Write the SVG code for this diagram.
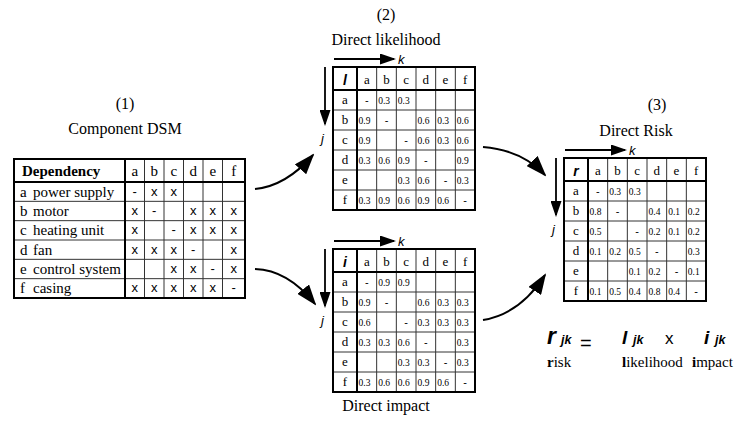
<svg xmlns="http://www.w3.org/2000/svg" xmlns:xlink="http://www.w3.org/1999/xlink" width="740" height="425" viewBox="0 0 740 425">
<style>
.t{font-family:"Liberation Serif","Times New Roman",serif;fill:#000}
.ttl{font-size:16px;text-anchor:middle}
.h{font-size:13px;text-anchor:middle}
.v{font-size:9.5px}
.dl{font-family:"Liberation Sans",Arial,sans-serif;font-size:11px;text-anchor:middle}
.dm{font-family:"Liberation Sans",Arial,sans-serif;font-size:13px;text-anchor:middle}
.bi{font-family:"Liberation Sans",Arial,sans-serif;font-weight:bold;font-style:italic}
.it{font-family:"Liberation Sans",Arial,sans-serif;font-style:italic;font-size:13px}
.ds{font-size:15px}
.thin{stroke:#333;stroke-width:1;fill:none}
.thick{stroke:#000;stroke-width:2;fill:none}
.ax{stroke:#000;stroke-width:1.8;fill:none;marker-end:url(#sh)}
.cv{stroke:#000;stroke-width:2;fill:none;marker-end:url(#bh)}
</style>
<defs>
<marker id="sh" markerWidth="16" markerHeight="11" refX="14" refY="5.5" orient="auto" markerUnits="userSpaceOnUse"><path d="M0,0 L16,5.5 L0,11 Z" fill="#000"/></marker>
<marker id="bh" markerWidth="21" markerHeight="15" refX="19" refY="7.5" orient="auto" markerUnits="userSpaceOnUse"><path d="M0,0 L21,7.5 L0,15 Z" fill="#000"/></marker>
<g id="mgrid">
<path class="thin" d="M0,43H142M0,63H142M0,83H142M0,103H142M0,123H142M43.67,0V143M63.33,0V143M83,0V143M102.67,0V143M122.33,0V143"/>
<path class="thick" d="M0,23H142M24,0V143"/>
<rect class="thick" x="0" y="0" width="142" height="143"/>
<path class="ax" d="M1,-8H61"/>
<path class="ax" d="M-8,0V57"/>
<text class="it" x="65" y="-3.5">k</text>
<text class="it" x="-12" y="76">j</text>
<g class="t h">
<text x="33.8" y="17">a</text><text x="53.5" y="17">b</text><text x="73.2" y="17">c</text><text x="92.8" y="17">d</text><text x="112.5" y="17">e</text><text x="132.2" y="17">f</text>
<text x="12" y="37">a</text><text x="12" y="57">b</text><text x="12" y="77">c</text><text x="12" y="97">d</text><text x="12" y="117">e</text><text x="12" y="137">f</text>
</g>
<g class="dl">
<text x="33.8" y="37">-</text><text x="53.5" y="57">-</text><text x="73.2" y="77">-</text><text x="92.8" y="97">-</text><text x="112.5" y="117">-</text><text x="132.2" y="137">-</text>
</g>
</g>
</defs>

<g id="titles" class="t">
<text class="ttl" x="125" y="109">(1)</text>
<text class="ttl" x="125" y="134">Component DSM</text>
<text class="ttl" x="386" y="20">(2)</text>
<text class="ttl" x="386" y="45">Direct likelihood</text>
<text class="ttl" x="657" y="110">(3)</text>
<text class="ttl" x="636" y="136">Direct Risk</text>
<text class="ttl" x="386" y="411">Direct impact</text>
</g>

<g id="dsm" transform="translate(14,159)">
<path class="thin" d="M0,42.33H231M0,61.67H231M0,81H231M0,100.33H231M0,119.67H231M130.5,0V139M150,0V139M169.5,0V139M189,0V139M208.5,0V139"/>
<path class="thick" d="M0,23H231M111,0V139"/>
<rect class="thick" x="0" y="0" width="231" height="139"/>
<g class="t ds">
<text x="8" y="17" font-weight="bold">Dependency</text>
<g text-anchor="middle"><text x="120.75" y="17">a</text><text x="140.25" y="17">b</text><text x="159.75" y="17">c</text><text x="179.25" y="17">d</text><text x="198.75" y="17">e</text><text x="219.75" y="17">f</text></g>
<text x="6" y="37.5">a</text><text x="19" y="37.5">power supply</text>
<text x="6" y="56.8">b</text><text x="19" y="56.8">motor</text>
<text x="6" y="76.2">c</text><text x="19" y="76.2">heating unit</text>
<text x="6" y="95.5">d</text><text x="19" y="95.5">fan</text>
<text x="6" y="114.8">e</text><text x="19" y="114.8">control system</text>
<text x="6" y="134.2">f</text><text x="19" y="134.2">casing</text>
</g>
<g class="dm">
<text x="120.75" y="36.5">-</text><text x="140.25" y="36.5">x</text><text x="159.75" y="36.5">x</text>
<text x="120.75" y="55.8">x</text><text x="140.25" y="55.8">-</text><text x="179.25" y="55.8">x</text><text x="198.75" y="55.8">x</text><text x="219.75" y="55.8">x</text>
<text x="120.75" y="75.2">x</text><text x="159.75" y="75.2">-</text><text x="179.25" y="75.2">x</text><text x="198.75" y="75.2">x</text><text x="219.75" y="75.2">x</text>
<text x="120.75" y="94.5">x</text><text x="140.25" y="94.5">x</text><text x="159.75" y="94.5">x</text><text x="179.25" y="94.5">-</text><text x="219.75" y="94.5">x</text>
<text x="159.75" y="113.8">x</text><text x="179.25" y="113.8">x</text><text x="198.75" y="113.8">-</text><text x="219.75" y="113.8">x</text>
<text x="120.75" y="133.2">x</text><text x="140.25" y="133.2">x</text><text x="159.75" y="133.2">x</text><text x="179.25" y="133.2">x</text><text x="198.75" y="133.2">x</text><text x="219.75" y="133.2">-</text>
</g>
</g>

<g id="likelihood" transform="translate(333,67)">
<use xlink:href="#mgrid"/>
<text class="bi" x="12" y="17.5" font-size="14" text-anchor="middle">l</text>
<g class="t v">
<text y="36.5"><tspan x="45.2">0.3</tspan><tspan x="64.8">0.3</tspan></text>
<text y="56.5"><tspan x="25.5">0.9</tspan><tspan x="84.5">0.6</tspan><tspan x="104.2">0.3</tspan><tspan x="123.8">0.6</tspan></text>
<text y="76.5"><tspan x="25.5">0.9</tspan><tspan x="84.5">0.6</tspan><tspan x="104.2">0.3</tspan><tspan x="123.8">0.6</tspan></text>
<text y="96.5"><tspan x="25.5">0.3</tspan><tspan x="45.2">0.6</tspan><tspan x="64.8">0.9</tspan><tspan x="123.8">0.9</tspan></text>
<text y="116.5"><tspan x="64.8">0.3</tspan><tspan x="84.5">0.6</tspan><tspan x="123.8">0.3</tspan></text>
<text y="136.5"><tspan x="25.5">0.3</tspan><tspan x="45.2">0.9</tspan><tspan x="64.8">0.6</tspan><tspan x="84.5">0.9</tspan><tspan x="104.2">0.6</tspan></text>
</g>
</g>

<g id="impact" transform="translate(333,249)">
<use xlink:href="#mgrid"/>
<text class="bi" x="12" y="17.5" font-size="14" text-anchor="middle">i</text>
<g class="t v">
<text y="36.5"><tspan x="45.2">0.9</tspan><tspan x="64.8">0.9</tspan></text>
<text y="56.5"><tspan x="25.5">0.9</tspan><tspan x="84.5">0.6</tspan><tspan x="104.2">0.3</tspan><tspan x="123.8">0.3</tspan></text>
<text y="76.5"><tspan x="25.5">0.6</tspan><tspan x="84.5">0.3</tspan><tspan x="104.2">0.3</tspan><tspan x="123.8">0.3</tspan></text>
<text y="96.5"><tspan x="25.5">0.3</tspan><tspan x="45.2">0.3</tspan><tspan x="64.8">0.6</tspan><tspan x="123.8">0.3</tspan></text>
<text y="116.5"><tspan x="64.8">0.3</tspan><tspan x="84.5">0.3</tspan><tspan x="123.8">0.3</tspan></text>
<text y="136.5"><tspan x="25.5">0.3</tspan><tspan x="45.2">0.6</tspan><tspan x="64.8">0.6</tspan><tspan x="84.5">0.9</tspan><tspan x="104.2">0.6</tspan></text>
</g>
</g>

<g id="risk" transform="translate(564,158)">
<use xlink:href="#mgrid"/>
<text class="bi" x="12" y="17.5" font-size="14" text-anchor="middle">r</text>
<g class="t v">
<text y="36.5"><tspan x="45.2">0.3</tspan><tspan x="64.8">0.3</tspan></text>
<text y="56.5"><tspan x="25.5">0.8</tspan><tspan x="84.5">0.4</tspan><tspan x="104.2">0.1</tspan><tspan x="123.8">0.2</tspan></text>
<text y="76.5"><tspan x="25.5">0.5</tspan><tspan x="84.5">0.2</tspan><tspan x="104.2">0.1</tspan><tspan x="123.8">0.2</tspan></text>
<text y="96.5"><tspan x="25.5">0.1</tspan><tspan x="45.2">0.2</tspan><tspan x="64.8">0.5</tspan><tspan x="123.8">0.3</tspan></text>
<text y="116.5"><tspan x="64.8">0.1</tspan><tspan x="84.5">0.2</tspan><tspan x="123.8">0.1</tspan></text>
<text y="136.5"><tspan x="25.5">0.1</tspan><tspan x="45.2">0.5</tspan><tspan x="64.8">0.4</tspan><tspan x="84.5">0.8</tspan><tspan x="104.2">0.4</tspan></text>
</g>
</g>

<g id="connectors">
<path class="cv" d="M255,189 Q286,186 313,155"/>
<path class="cv" d="M255,269 Q288,270 315,304"/>
<path class="cv" d="M483,147 Q522,150 545,175"/>
<path class="cv" d="M483,320 Q520,314 545,275"/>
</g>

<g id="formula">
<text class="bi" x="547" y="344" font-size="23">r</text>
<text class="bi" x="561" y="344" font-size="12.5">jk</text>
<text x="580" y="350" font-family="Liberation Sans,Arial,sans-serif" font-size="20">=</text>
<text class="bi" x="622" y="344" font-size="19">l</text>
<text class="bi" x="633" y="344" font-size="12.5">jk</text>
<text x="665" y="344" font-family="Liberation Sans,Arial,sans-serif" font-size="17">x</text>
<text class="bi" x="704" y="344" font-size="19">i</text>
<text class="bi" x="715" y="344" font-size="12.5">jk</text>
<g class="t" font-size="15">
<text x="547" y="367"><tspan font-weight="bold">r</tspan>isk</text>
<text x="622" y="367"><tspan font-weight="bold">l</tspan>ikelihood</text>
<text x="692" y="367"><tspan font-weight="bold">i</tspan>mpact</text>
</g>
</g>
</svg>
